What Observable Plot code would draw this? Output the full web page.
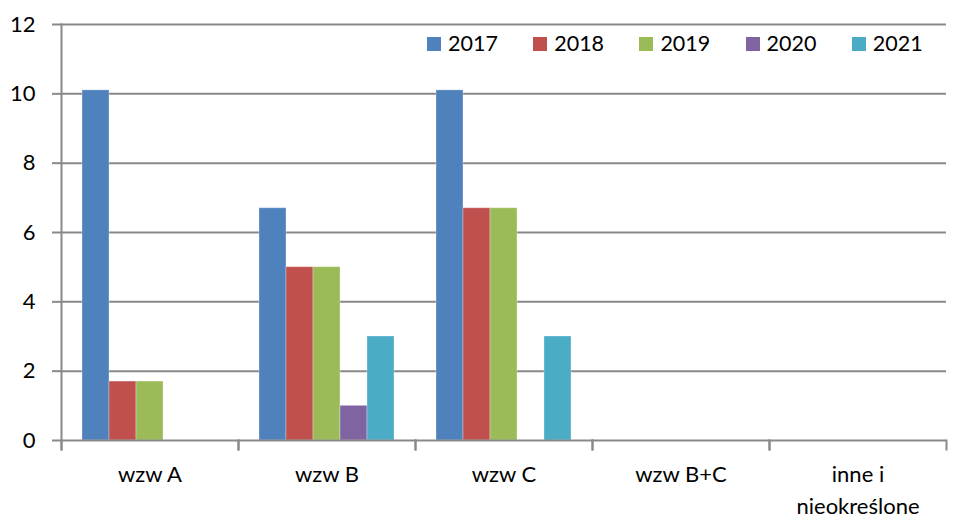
<!DOCTYPE html>
<html>
<head>
<meta charset="utf-8">
<script src="https://cdn.jsdelivr.net/npm/d3@7"></script>
<script src="https://cdn.jsdelivr.net/npm/@observablehq/plot@0.6"></script>
<style>
  html, body { margin: 0; padding: 0; background: #fff; }
  #wrap { position: relative; width: 966px; height: 515px; font-family: Lato, sans-serif; }
  #legend { position: absolute; left: 427px; top: 33px; display: flex; font-size: 21.5px; line-height: 1; color: #000; }
  #legend .item { display: flex; align-items: center; width: 106.2px; }
  #legend .sw { width: 14px; height: 14px; margin-right: 7px; display: inline-block; }
</style>
</head>
<body>
<div id="wrap"><div id="legend"></div></div>
<script>
const categories = ["wzw A", "wzw B", "wzw C", "wzw B+C", "inne i nieokreślone"];
const categoryLabels = ["wzw A", "wzw B", "wzw C", "wzw B+C", "inne i\nnieokreślone"];
const years = ["2017", "2018", "2019", "2020", "2021"];
const values2017 = [10.1, 6.7, 10.1, 0, 0];
const values2018 = [1.7, 5.0, 6.7, 0, 0];
const values2019 = [1.7, 5.0, 6.7, 0, 0];
const values2020 = [0, 1.0, 0, 0, 0];
const values2021 = [0, 3.0, 3.0, 0, 0];
const yearColors = ["#4F81BD", "#C0504D", "#9BBB59", "#8064A2", "#4BACC6"];
const yTicks = [0, 2, 4, 6, 8, 10, 12];

const series = [values2017, values2018, values2019, values2020, values2021];
const data = [];
categories.forEach((c, i) => {
  years.forEach((y, j) => {
    const v = series[j][i];
    if (v > 0) data.push({category: c, year: y, value: v});
  });
});

const gray = "#898989";

const chart = Plot.plot({
  width: 966,
  height: 515,
  marginLeft: 61,
  marginRight: 20,
  marginTop: 24,
  marginBottom: 75,
  style: {fontFamily: "Lato, sans-serif", fontSize: "21.5px", color: "#000", background: "#fff", overflow: "visible"},
  fx: {domain: categories, padding: 0, axis: null, label: null},
  x: {domain: years, paddingInner: 0, paddingOuter: 0.765, axis: null, label: null},
  y: {domain: [0, 12], axis: null, label: null},
  color: {domain: years, range: yearColors},
  marks: [
    Plot.gridY(yTicks.slice(1), {stroke: gray, strokeOpacity: 1, strokeWidth: 2}),
    Plot.barY(data, {fx: "category", x: "year", y: "value", fill: "year", stroke: "#fff", strokeOpacity: 0.3, strokeWidth: 1}),
    Plot.ruleY([0], {stroke: gray, strokeWidth: 2}),
    Plot.frame({anchor: "left", insetTop: 416, insetBottom: -9, stroke: gray, strokeWidth: 2}),
    Plot.frame({anchor: "right", insetTop: 416, insetBottom: -9, stroke: gray, strokeWidth: 2}),
    Plot.frame({anchor: "left", fx: categories[0], insetBottom: -9, stroke: gray, strokeWidth: 2}),
    Plot.axisY({ticks: yTicks, label: null, tickSize: 9, tickPadding: 17, stroke: gray, strokeWidth: 2, fill: "#000", fontSize: 22}),
    Plot.text(categories, {
      fx: d => d,
      text: d => categoryLabels[categories.indexOf(d)],
      frameAnchor: "bottom",
      lineAnchor: "top",
      dy: 19,
      lineHeight: 1.45,
      fontSize: 22,
      fill: "#000"
    })
  ]
});

const wrap = document.getElementById("wrap");
wrap.insertBefore(chart, wrap.firstChild);

const legend = d3.select("#legend");
years.forEach((y, j) => {
  const item = legend.append("div").attr("class", "item");
  item.append("span").attr("class", "sw").style("background", yearColors[j]);
  item.append("span").text(y);
});
</script>
</body>
</html>
